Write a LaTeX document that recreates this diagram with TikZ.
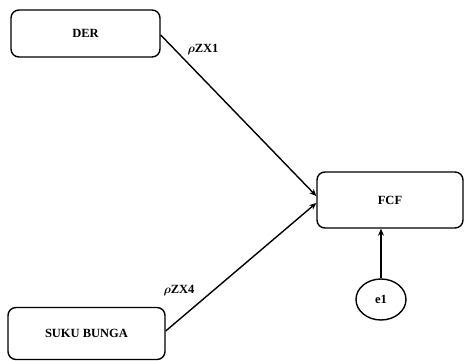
\documentclass[tikz,border=0pt]{standalone}
\usepackage{amsmath}
\usepackage{fontspec}
\setmainfont{Liberation Serif}
\usetikzlibrary{arrows.meta,shapes.geometric}

\begin{document}
\begin{tikzpicture}[x=1pt,y=-1pt,
	varbox/.style={draw, line width=1.4pt, rounded corners=8pt, font=\fontsize{12.5}{0}\selectfont\bfseries},
	errnode/.style={draw, ellipse, line width=1.4pt, minimum width=50pt, minimum height=41pt, inner sep=0pt, font=\fontsize{12.5}{0}\selectfont\bfseries},
	effect/.style={line width=1.4pt, -{Stealth[length=7pt,width=6pt]}},
	coef/.style={font=\fontsize{12.5}{0}\selectfont\bfseries}]

	\useasboundingbox (0,0) rectangle (464,361);

	\node (der) at (85.5,33.5) [varbox, minimum width=149pt, minimum height=47pt] {DER};
	\node (suku) at (86.5,333.5) [varbox, minimum width=157pt, minimum height=52pt] {SUKU BUNGA};
	\node (fcf) at (390,200) [varbox, minimum width=146pt, minimum height=56pt] {FCF};
	\node (e1) at (381,299.5) [errnode] {e1};

	\draw[effect] (der.east |- 0,35) -- (fcf.west |- 0,196);
	\draw[effect] (suku.east |- 0,331) -- (fcf.west |- 0,203);
	\draw[effect] (e1.north) -- (e1.north |- fcf.south);

	\node (p1) at (203,50) [coef] {$\boldsymbol{\rho}$ZX1};
	\node (p4) at (179,291) [coef] {$\boldsymbol{\rho}$ZX4};
\end{tikzpicture}
\end{document}
